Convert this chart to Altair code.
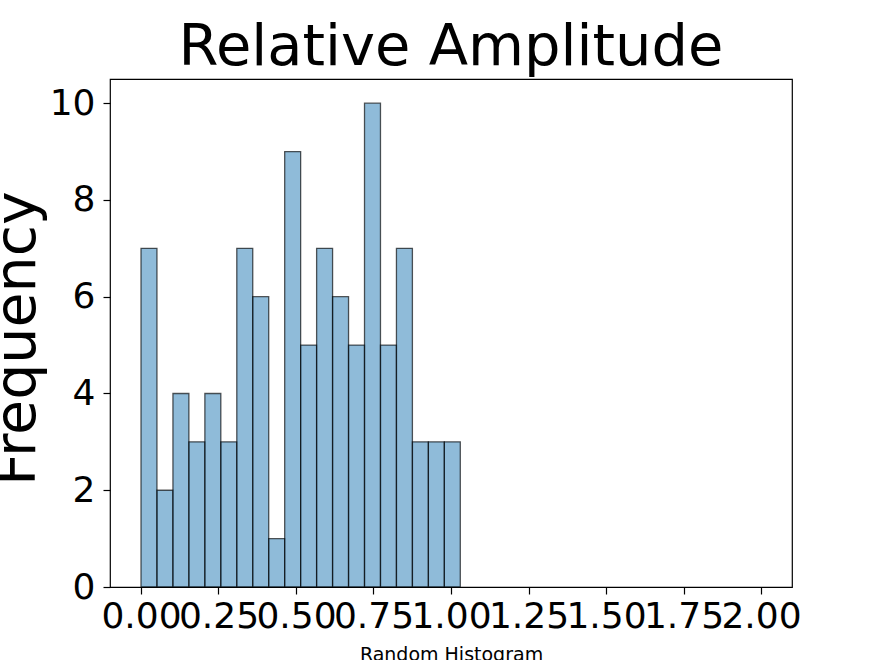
import altair as alt
import pandas as pd
import numpy as np

# Histogram counts (20 bins)
counts = [7, 2, 4, 3, 4, 3, 7, 6, 1, 9, 5, 7, 6, 5, 10, 5, 7, 3, 3, 3]
data_min = 0.0
data_max = 1.03
x_ticks = [0.0, 0.25, 0.5, 0.75, 1.0, 1.25, 1.5, 1.75, 2.0]
y_ticks = [0, 2, 4, 6, 8, 10]

edges = np.linspace(data_min, data_max, len(counts) + 1)
df = pd.DataFrame({"start": edges[:-1], "end": edges[1:], "count": counts})

FONT = "DejaVu Sans"

chart = (
    alt.Chart(df)
    .mark_rect(
        fill="#1f77b4", fillOpacity=0.5,
        stroke="black", strokeOpacity=0.65, strokeWidth=1.3,
    )
    .encode(
        x=alt.X(
            "start:Q",
            scale=alt.Scale(domain=[-0.1, 2.1], nice=False, zero=False),
            axis=alt.Axis(
                values=x_ticks, format=".2f",
                title="Random Histogram", titleFont=FONT, titleFontSize=19,
                titleFontWeight="normal", titleColor="black",
                titleX=341, titleY=73, titleBaseline="alphabetic", titleAlign="center",
                labelFont=FONT, labelFontSize=36, labelColor="black", labelPadding=5,
                labelOverlap=False, labelFlush=False,
                tickSize=7, tickColor="black", tickWidth=1.2,
                domain=False, grid=False,
            ),
        ),
        x2="end:Q",
        y=alt.Y(
            "count:Q",
            scale=alt.Scale(domain=[0, 10.5], nice=False),
            axis=alt.Axis(
                values=y_ticks,
                title="Frequency", titleFont=FONT, titleFontSize=57,
                titleFontWeight="normal", titleColor="black",
                titleAngle=270, titleX=-76, titleY=259,
                titleBaseline="alphabetic", titleAlign="center",
                labelFont=FONT, labelFontSize=36, labelColor="black", labelPadding=8,
                labelOverlap=False,
                tickSize=7, tickColor="black", tickWidth=1.2,
                domain=False, grid=False,
            ),
        ),
        y2=alt.datum(0),
    )
    .properties(
        width=682,
        height=508,
        title=alt.TitleParams(
            "Relative Amplitude", font=FONT, fontSize=57.5, fontWeight="normal",
            color="black", anchor="middle", frame="group", offset=11,
            baseline="alphabetic", dy=54,
        ),
        autosize=alt.AutoSizeParams(type="none"),
        padding={"left": 110, "top": 79, "right": 88, "bottom": 73},
    )
    .configure_view(stroke="black", strokeWidth=1.2)
)

chart.save("out.html", embed_options={"renderer": "svg", "actions": False})
